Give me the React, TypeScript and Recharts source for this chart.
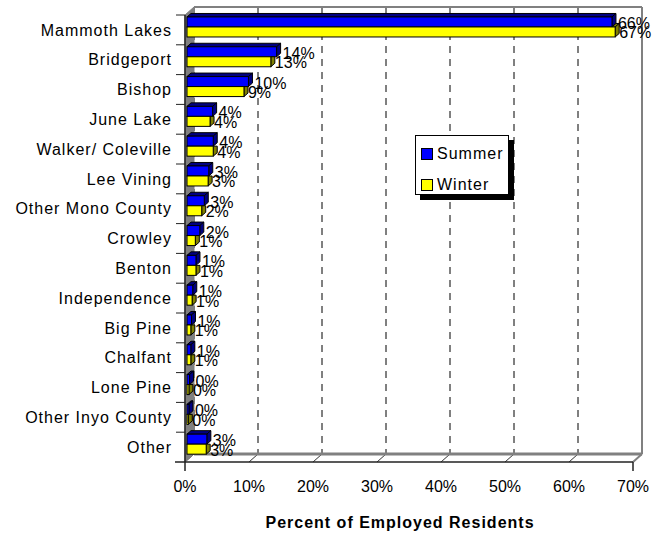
import React from 'react';
import { BarChart, Bar, XAxis, YAxis, CartesianGrid, ReferenceArea, LabelList, Legend, Label } from 'recharts';

const categories = ['Mammoth Lakes', 'Bridgeport', 'Bishop', 'June Lake', 'Walker/ Coleville', 'Lee Vining', 'Other Mono County', 'Crowley', 'Benton', 'Independence', 'Big Pine', 'Chalfant', 'Lone Pine', 'Other Inyo County', 'Other'];
const summerValues = [66.4, 14.0, 9.6, 4.0, 4.1, 3.4, 2.7, 2.0, 1.4, 0.9, 0.7, 0.6, 0.4, 0.3, 3.1];
const winterValues = [66.9, 13.1, 8.9, 3.6, 4.1, 3.3, 2.3, 1.3, 1.4, 0.8, 0.6, 0.6, 0.3, 0.2, 3.0];
const xTicks = [0, 10, 20, 30, 40, 50, 60, 70];

const data = categories.map((name, i) => ({ name, summer: summerValues[i], winter: winterValues[i] }));

const W = 671;
const H = 533;
const M_TOP = 15;
const X_AXIS_H = 71;
const PLOT_H = H - M_TOP - X_AXIS_H;
const BAND = PLOT_H / categories.length;
const FONT = '"Liberation Sans", Arial, sans-serif';

const DX = 9;
const DY = -8;
const D = 4;
const E = 3.5;
const SX = 2;
const SY = -2.5;

const SummerShape = (p: any) => {
  const { x, y, width, height } = p;
  if (width == null || height == null) return null;
  const x0 = x + SX;
  const y0 = y + SY;
  const w = Math.max(width, 0);
  return (
    <g>
      <polygon points={`${x0},${y0} ${x0 + D},${y0 - E} ${x0 + w + D},${y0 - E} ${x0 + w},${y0}`} fill="#000080" stroke="#000" strokeWidth={1} />
      <polygon points={`${x0 + w},${y0} ${x0 + w + D},${y0 - E} ${x0 + w + D},${y0 + height - E} ${x0 + w},${y0 + height}`} fill="#000080" stroke="#000" strokeWidth={1} />
      <rect x={x0} y={y0} width={w} height={height} fill="#0000FF" stroke="#000" strokeWidth={1} />
    </g>
  );
};

const WinterShape = (p: any) => {
  const { x, y, width, height, payload } = p;
  if (width == null || height == null) return null;
  const x0 = x + SX;
  const y0 = y + SY;
  const w = Math.max(width, 0);
  const s = payload.summer;
  const v = payload.winter;
  const sw = v > 0 ? (w * s) / v : 0;
  const showTop = v > s;
  return (
    <g>
      {showTop && (
        <polygon points={`${x0 + sw},${y0} ${x0 + sw + D},${y0 - E} ${x0 + w + D},${y0 - E} ${x0 + w},${y0}`} fill="#808000" stroke="#000" strokeWidth={1} />
      )}
      {showTop ? (
        <polygon points={`${x0 + w},${y0} ${x0 + w + D},${y0 - E} ${x0 + w + D},${y0 + height - E} ${x0 + w},${y0 + height}`} fill="#808000" stroke="#000" strokeWidth={1} />
      ) : (
        <polygon points={`${x0 + w},${y0} ${x0 + w + D},${y0} ${x0 + w + D},${y0 + height - E} ${x0 + w},${y0 + height}`} fill="#808000" stroke="#000" strokeWidth={1} />
      )}
      <rect x={x0} y={y0} width={w} height={height} fill="#FFFF00" stroke="#000" strokeWidth={1} />
    </g>
  );
};

const makeLabel = (dx: number, dy: number) => (p: any) => {
  const { x, y, width, height, value } = p;
  if (value == null) return null;
  return (
    <text
      x={x + width + SX + dx}
      y={y + SY + height / 2 + dy}
      dominantBaseline="central"
      fontSize={16}
      fontFamily={FONT}
      fill="#000"
    >
      {`${Math.round(value)}%`}
    </text>
  );
};

const gridLine = (p: any) => {
  const { x1, y1, y2, key } = p;
  return (
    <g key={key}>
      <line x1={x1 + DX} y1={y1 + DY} x2={x1 + DX} y2={y2 + DY} stroke="#000" strokeWidth={1} strokeDasharray="7 6" />
      <line x1={x1} y1={y2} x2={x1 + DX} y2={y2 + DY} stroke="#333" strokeWidth={1} />
    </g>
  );
};

const Frame = (p: any) => {
  const { x, y, width: w, height: h } = p;
  if (x == null) return null;
  return (
    <g>
      <polygon points={`${x},${y} ${x + DX},${y + DY} ${x + DX},${y + h + DY} ${x},${y + h}`} fill="#808080" stroke="#808080" strokeWidth={1} />
      <line x1={x + DX} y1={y + DY} x2={x + w + DX} y2={y + DY} stroke="#808080" strokeWidth={2} />
      <line x1={x + w + DX} y1={y + DY} x2={x + w + DX} y2={y + h + DY} stroke="#808080" strokeWidth={2} />
      <line x1={x + DX} y1={y + h + DY} x2={x + w + DX} y2={y + h + DY} stroke="#808080" strokeWidth={3} />
      <line x1={x + w + DX} y1={y + h + DY} x2={x + w} y2={y + h} stroke="#808080" strokeWidth={2} />
      <line x1={x - 10} y1={y + h} x2={x} y2={y + h} stroke="#222" strokeWidth={1.5} />
      <line x1={x} y1={y + h} x2={x} y2={y + h + 9} stroke="#222" strokeWidth={1.5} />
      <line x1={x + w} y1={y + h} x2={x + w} y2={y + h + 9} stroke="#222" strokeWidth={1.5} />
    </g>
  );
};

const YTick = (p: any) => {
  const { x, y, payload, index } = p;
  const ax = x + 13;
  return (
    <g>
      <text x={x} y={y} dy="0.355em" textAnchor="end" fontSize={16} fontFamily={FONT} letterSpacing={1} fill="#000">
        {payload.value}
      </text>
      <line x1={ax - 9} y1={y - BAND / 2} x2={ax} y2={y - BAND / 2} stroke="#222" strokeWidth={1} />
    </g>
  );
};

const XTick = (p: any) => {
  const { x, y, payload } = p;
  return (
    <text x={x} y={y} dy="0.71em" textAnchor="middle" fontSize={16} fontFamily={FONT} fill="#000">
      {`${payload.value}%`}
    </text>
  );
};

const AxisTitle = (p: any) => {
  const vb = p.viewBox || {};
  return (
    <text
      x={vb.x + vb.width / 2 - 9}
      y={vb.y + vb.height - 5}
      textAnchor="middle"
      fontSize={16}
      fontWeight="bold"
      letterSpacing={1}
      fontFamily={FONT}
      fill="#000"
    >
      Percent of Employed Residents
    </text>
  );
};

const LegendBox = (p: any) => {
  const payload = p.payload || [];
  return (
    <div
      style={{
        width: 94,
        height: 60,
        boxSizing: 'border-box',
        border: '1px solid #000',
        background: '#fff',
        boxShadow: '5px 5px 0 #000',
        fontFamily: FONT,
        fontSize: 16,
        letterSpacing: 1,
        paddingTop: 6,
      }}
    >
      {payload.map((e: any, i: number) => (
        <div key={i} style={{ display: 'flex', alignItems: 'center', height: 23, marginBottom: i === 0 ? 8 : 0, paddingLeft: 5 }}>
          <span
            style={{
              display: 'inline-block',
              width: 10,
              height: 10,
              border: '1px solid #000',
              background: e.color,
              marginRight: 4,
            }}
          />
          <span style={{ color: '#000' }}>{e.value}</span>
        </div>
      ))}
    </div>
  );
};

export default function App() {
  return (
    <div style={{ position: 'absolute', left: 0, top: 0, width: W, height: H, background: '#fff', fontFamily: FONT }}>
      <BarChart
        width={W}
        height={H}
        data={data}
        layout="vertical"
        margin={{ top: M_TOP, right: 38, bottom: 0, left: 0 }}
        barCategoryGap="15%"
        barGap={0}
      >
        <CartesianGrid horizontal={false} vertical={gridLine} />
        <ReferenceArea x1={0} x2={70} shape={Frame} fill="none" ifOverflow="visible" />
        <XAxis
          type="number"
          domain={[0, 70]}
          ticks={xTicks}
          interval={0}
          height={X_AXIS_H}
          tick={XTick}
          tickLine={false}
          tickSize={8}
          tickMargin={11}
          axisLine={{ stroke: '#222', strokeWidth: 1.5 }}
        >
          <Label content={AxisTitle} />
        </XAxis>
        <YAxis
          type="category"
          dataKey="name"
          width={185}
          interval={0}
          tick={YTick}
          tickLine={false}
          tickSize={0}
          tickMargin={13}
          axisLine={{ stroke: '#222', strokeWidth: 1.5 }}
        />
        <Legend
          layout="vertical"
          align="center"
          verticalAlign="middle"
          content={LegendBox}
          wrapperStyle={{ position: 'absolute', left: 415, top: 135, width: 94, height: 60 }}
        />
        <Bar dataKey="summer" name="Summer" fill="#0000FF" shape={SummerShape} isAnimationActive={false}>
          <LabelList dataKey="summer" content={makeLabel(6, 1.5)} />
        </Bar>
        <Bar dataKey="winter" name="Winter" fill="#FFFF00" shape={WinterShape} isAnimationActive={false}>
          <LabelList dataKey="winter" content={makeLabel(4, 1)} />
        </Bar>
      </BarChart>
    </div>
  );
}
